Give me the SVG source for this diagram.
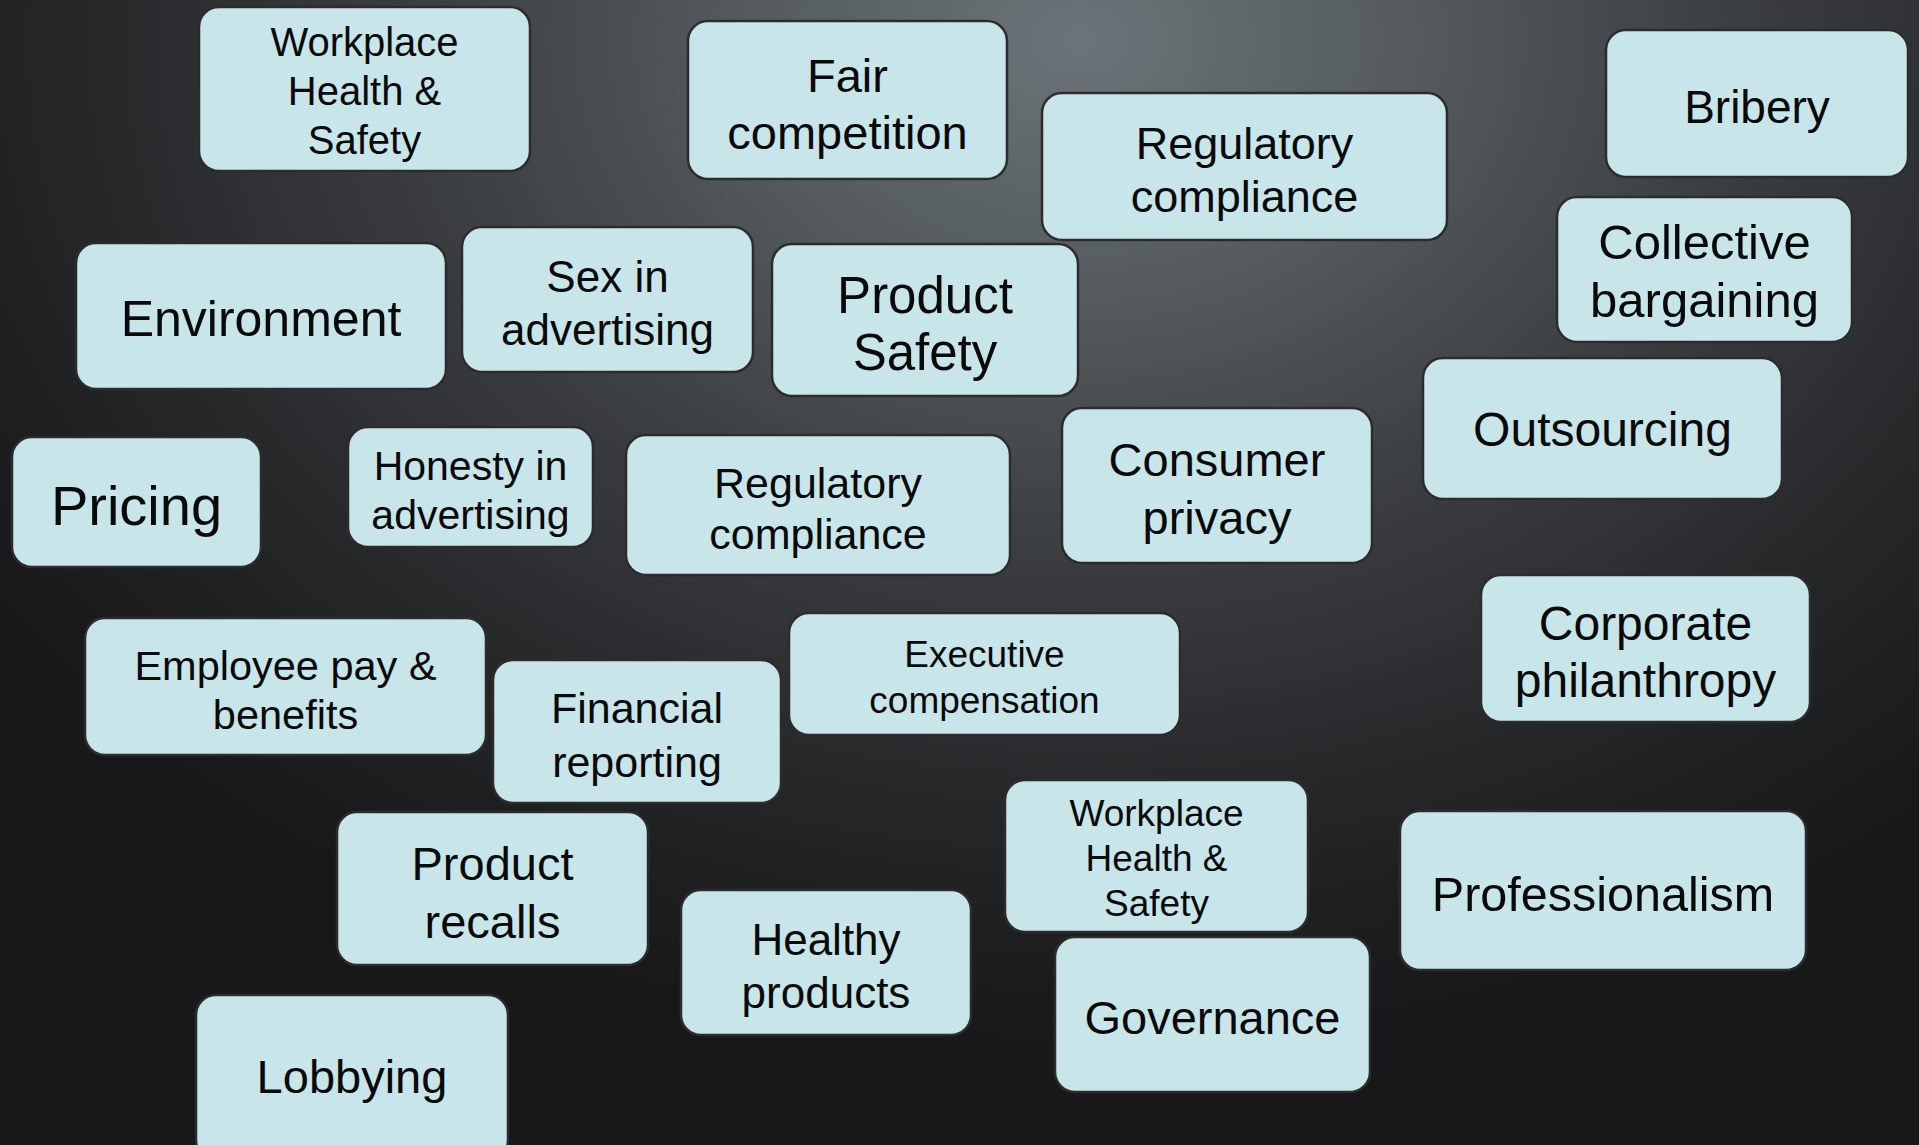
<svg xmlns="http://www.w3.org/2000/svg" width="1919" height="1145" viewBox="0 0 1919 1145">
  <defs>
    <radialGradient id="bg" gradientUnits="userSpaceOnUse" cx="1080" cy="40" r="1000" gradientTransform="translate(1080 40) scale(1.3 1) translate(-1080 -40)">
      <stop offset="0" stop-color="#6b7478"/>
      <stop offset="0.25" stop-color="#555b5f"/>
      <stop offset="0.5" stop-color="#3c3f42"/>
      <stop offset="0.75" stop-color="#27282a"/>
      <stop offset="1" stop-color="#18181a"/>
    </radialGradient>
    <style>
      .node rect { fill: #c8e5e9; stroke: #2c2c2c; stroke-width: 2.5; }
      .node text { font-family: "Liberation Sans", Arial, sans-serif; text-anchor: middle; fill: #0a0a0a; }
    </style>
  </defs>
  <rect x="0" y="0" width="1919" height="1145" fill="#18181a"/>
  <rect x="0" y="0" width="1919" height="1145" fill="url(#bg)"/>

  <g id="connectors"></g>

  <g id="workplace-health-safety-1" class="node">
    <rect x="199" y="7" width="331" height="164" rx="20"/>
    <text x="364.5" y="56" font-size="40">Workplace</text>
    <text x="364.5" y="105" font-size="40">Health &amp;</text>
    <text x="364.5" y="154" font-size="40">Safety</text>
  </g>
  <g id="fair-competition" class="node">
    <rect x="688" y="21" width="319" height="158" rx="20"/>
    <text x="847.5" y="92" font-size="47">Fair</text>
    <text x="847.5" y="149" font-size="47">competition</text>
  </g>
  <g id="regulatory-compliance-1" class="node">
    <rect x="1042" y="93" width="405" height="147" rx="20"/>
    <text x="1244.5" y="159" font-size="45">Regulatory</text>
    <text x="1244.5" y="212" font-size="45">compliance</text>
  </g>
  <g id="bribery" class="node">
    <rect x="1606" y="30" width="302" height="147" rx="20"/>
    <text x="1757" y="123" font-size="46">Bribery</text>
  </g>
  <g id="collective-bargaining" class="node">
    <rect x="1557" y="197" width="295" height="145" rx="20"/>
    <text x="1704.5" y="259" font-size="49">Collective</text>
    <text x="1704.5" y="317" font-size="49">bargaining</text>
  </g>
  <g id="environment" class="node">
    <rect x="76" y="243" width="370" height="146" rx="20"/>
    <text x="261" y="336" font-size="50">Environment</text>
  </g>
  <g id="sex-in-advertising" class="node">
    <rect x="462" y="227" width="291" height="145" rx="20"/>
    <text x="607.5" y="292" font-size="44">Sex in</text>
    <text x="607.5" y="345" font-size="44">advertising</text>
  </g>
  <g id="product-safety" class="node">
    <rect x="772" y="244" width="306" height="152" rx="20"/>
    <text x="925" y="313" font-size="51">Product</text>
    <text x="925" y="370" font-size="51">Safety</text>
  </g>
  <g id="outsourcing" class="node">
    <rect x="1423" y="358" width="359" height="141" rx="20"/>
    <text x="1602.5" y="446" font-size="48">Outsourcing</text>
  </g>
  <g id="pricing" class="node">
    <rect x="12" y="437" width="249" height="130" rx="20"/>
    <text x="136.5" y="525" font-size="56">Pricing</text>
  </g>
  <g id="honesty-in-advertising" class="node">
    <rect x="348" y="427" width="245" height="120" rx="20"/>
    <text x="470.5" y="480" font-size="41">Honesty in</text>
    <text x="470.5" y="529" font-size="41">advertising</text>
  </g>
  <g id="regulatory-compliance-2" class="node">
    <rect x="626" y="435" width="384" height="140" rx="20"/>
    <text x="818" y="498" font-size="43">Regulatory</text>
    <text x="818" y="549" font-size="43">compliance</text>
  </g>
  <g id="consumer-privacy" class="node">
    <rect x="1062" y="408" width="310" height="155" rx="20"/>
    <text x="1217" y="476" font-size="47">Consumer</text>
    <text x="1217" y="534" font-size="47">privacy</text>
  </g>
  <g id="corporate-philanthropy" class="node">
    <rect x="1481" y="575" width="329" height="147" rx="20"/>
    <text x="1645.5" y="640" font-size="48">Corporate</text>
    <text x="1645.5" y="697" font-size="48">philanthropy</text>
  </g>
  <g id="employee-pay-benefits" class="node">
    <rect x="85" y="618" width="401" height="137" rx="20"/>
    <text x="285.5" y="680" font-size="41.5">Employee pay &amp;</text>
    <text x="285.5" y="729" font-size="41.5">benefits</text>
  </g>
  <g id="financial-reporting" class="node">
    <rect x="493" y="660" width="288" height="143" rx="20"/>
    <text x="637" y="723" font-size="43">Financial</text>
    <text x="637" y="777" font-size="43">reporting</text>
  </g>
  <g id="executive-compensation" class="node">
    <rect x="789" y="613" width="391" height="122" rx="20"/>
    <text x="984.5" y="667" font-size="37">Executive</text>
    <text x="984.5" y="713" font-size="37">compensation</text>
  </g>
  <g id="workplace-health-safety-2" class="node">
    <rect x="1005" y="780" width="303" height="152" rx="20"/>
    <text x="1156.5" y="826" font-size="37">Workplace</text>
    <text x="1156.5" y="871" font-size="37">Health &amp;</text>
    <text x="1156.5" y="916" font-size="37">Safety</text>
  </g>
  <g id="professionalism" class="node">
    <rect x="1400" y="811" width="406" height="159" rx="20"/>
    <text x="1603" y="911" font-size="48.5">Professionalism</text>
  </g>
  <g id="product-recalls" class="node">
    <rect x="337" y="812" width="311" height="153" rx="20"/>
    <text x="492.5" y="880" font-size="47">Product</text>
    <text x="492.5" y="938" font-size="47">recalls</text>
  </g>
  <g id="healthy-products" class="node">
    <rect x="681" y="890" width="290" height="145" rx="20"/>
    <text x="826" y="955" font-size="44">Healthy</text>
    <text x="826" y="1008" font-size="44">products</text>
  </g>
  <g id="governance" class="node">
    <rect x="1055" y="937" width="315" height="155" rx="20"/>
    <text x="1212.5" y="1034" font-size="47">Governance</text>
  </g>
  <g id="lobbying" class="node">
    <rect x="196" y="995" width="312" height="165" rx="20"/>
    <text x="352" y="1093" font-size="47">Lobbying</text>
  </g>
</svg>
